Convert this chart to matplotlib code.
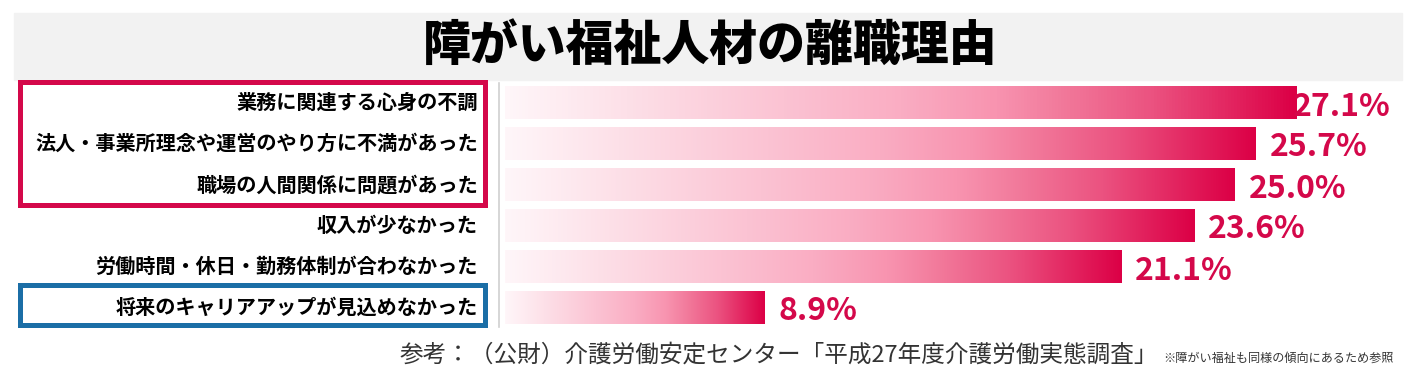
import numpy as np
import matplotlib.pyplot as plt
from matplotlib.colors import LinearSegmentedColormap
from matplotlib.patches import Rectangle
from matplotlib.transforms import blended_transform_factory

plt.rcParams['font.family'] = ['Noto Sans CJK JP', 'DejaVu Sans']

# ---- data ----
reasons = [
    "業務に関連する心身の不調",
    "法人・事業所理念や運営のやり方に不満があった",
    "職場の人間関係に問題があった",
    "収入が少なかった",
    "労働時間・休日・勤務体制が合わなかった",
    "将来のキャリアアップが見込めなかった",
]
shares = [27.1, 25.7, 25.0, 23.6, 21.1, 8.9]
title = "障がい福祉人材の離職理由"
source = "参考：（公財）介護労働安定センター「平成27年度介護労働実態調査」"
note = "※障がい福祉も同様の傾向にあるため参照"

W, H = 1406, 374
CRIMSON = "#d4084a"
BLUE = "#1b6ea6"

fig = plt.figure(figsize=(W / 100, H / 100), dpi=100)


def fx(px):
    return px / W


def fy(py):
    return 1 - py / H


# title band
fig.patches.append(Rectangle((fx(14), fy(80)), fx(1388), 67 / H,
                             transform=fig.transFigure, color="#f2f2f2", zorder=0))
fig.text(fx(710), fy(46), title, ha="center", va="center",
         fontsize=34.5, fontweight="black", color="black")

# bar axes: left edge at bar origin, rows 41 px apart
row_px = 41
top_px = 82
ax = fig.add_axes([fx(505), fy(top_px + row_px * len(shares)), fx(W - 505),
                   row_px * len(shares) / H])
ax.set_axis_off()

# light-to-crimson ramp, stretched over each bar separately
grad = LinearSegmentedColormap.from_list("pinkgrad", [
    (0.00, "#fff6f9"), (0.15, "#fde0e8"), (0.35, "#fbc3d3"), (0.50, "#faadc3"),
    (0.62, "#f894b0"), (0.70, "#f27b9c"), (0.82, "#eb5280"), (1.00, "#dc0046")])
ramp = np.linspace(0, 1, 256).reshape(1, -1)
bar_h = 0.79
for i, v in enumerate(shares):
    ax.imshow(ramp, cmap=grad, aspect="auto", interpolation="bilinear",
              extent=(0, v, i + bar_h / 2, i - bar_h / 2), zorder=2)

xmax = (W - 505) / 29.2
ax.set_xlim(0, xmax)
ax.set_ylim(len(shares) - 0.5, -0.5)

# value labels
for i, v in enumerate(shares):
    pad = -3 if i == 0 else 14
    ax.annotate(f"{v:.1f}%", xy=(v, i), xytext=(pad, -4), textcoords="offset pixels",
                ha="left", va="center", fontsize=23, fontweight="bold",
                color=CRIMSON, zorder=3)

# category labels, right-aligned left of the separator
lab_tr = blended_transform_factory(fig.transFigure, ax.transData)
for i, name in enumerate(reasons):
    ax.text(fx(478), i, name, transform=lab_tr, ha="right", va="center",
            fontsize=14.5, fontweight="bold", color="black", clip_on=False)

# separator line
fig.lines.append(plt.Line2D([fx(499), fx(499)], [fy(83), fy(327)],
                            transform=fig.transFigure, color="#d0d0d0", lw=1.2))

# highlight boxes
fig.patches.append(Rectangle((fx(19.5), fy(204.5)), fx(465), 122 / H,
                             transform=fig.transFigure, fill=False,
                             edgecolor=CRIMSON, lw=3.6, zorder=5))
fig.patches.append(Rectangle((fx(19.5), fy(325)), fx(465), 40 / H,
                             transform=fig.transFigure, fill=False,
                             edgecolor=BLUE, lw=3.6, zorder=5))

# source footnote
fig.text(fx(1158), fy(362), source, ha="right", va="baseline",
         fontsize=17, color="#333333")
fig.text(fx(1163), fy(362), note, ha="left", va="baseline",
         fontsize=8.7, color="#333333")

fig.savefig("out.png", dpi=100)
